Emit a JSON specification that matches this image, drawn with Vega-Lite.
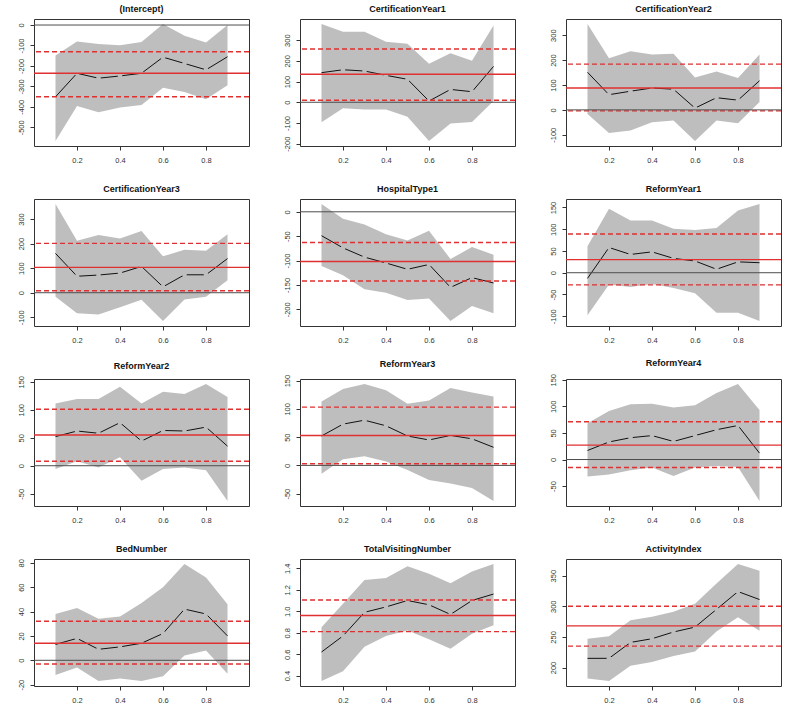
{
"$schema": "https://vega.github.io/schema/vega-lite/v6.json",
"padding": {"left": 16, "top": 4, "right": 5, "bottom": 5},
"background": "white",
"bounds": "flush",
"columns": 3,
"spacing": {"row": 53, "column": 51},
"config": {
  "font": "Liberation Sans",
  "view": {"stroke": "#333333", "strokeWidth": 1},
  "axis": {"grid": false, "domain": false, "tickSize": 4, "tickColor": "#333333", "labelColor": "#333333", "labelFontSize": 7.5, "labelFlush": false, "labelExpr": "replace(datum.label, '−', '-')"},
  "axisY": {"labelAngle": -90, "labelAlign": "center", "labelBaseline": "bottom", "labelPadding": 5},
  "axisX": {"labelPadding": 6},
  "title": {"fontSize": 9, "fontWeight": "bold", "offset": 5, "frame": "group", "color": "#111111"}
},
"datasets": {
"qr": [
{"v":"(Intercept)","tau":0.1,"coef":-351,"lo":-567,"hi":-149},
{"v":"(Intercept)","tau":0.2,"coef":-236,"lo":-396,"hi":-80},
{"v":"(Intercept)","tau":0.3,"coef":-260,"lo":-427,"hi":-93},
{"v":"(Intercept)","tau":0.4,"coef":-249,"lo":-403,"hi":-99},
{"v":"(Intercept)","tau":0.5,"coef":-236,"lo":-391,"hi":-83},
{"v":"(Intercept)","tau":0.6,"coef":-157,"lo":-307,"hi":5},
{"v":"(Intercept)","tau":0.7,"coef":-188,"lo":-327,"hi":-53},
{"v":"(Intercept)","tau":0.8,"coef":-219,"lo":-363,"hi":-86},
{"v":"(Intercept)","tau":0.9,"coef":-155,"lo":-294,"hi":0},
{"v":"CertificationYear1","tau":0.1,"coef":143,"lo":-97,"hi":378},
{"v":"CertificationYear1","tau":0.2,"coef":157,"lo":-29,"hi":340},
{"v":"CertificationYear1","tau":0.3,"coef":151,"lo":-35,"hi":340},
{"v":"CertificationYear1","tau":0.4,"coef":130,"lo":-35,"hi":292},
{"v":"CertificationYear1","tau":0.5,"coef":111,"lo":-70,"hi":283},
{"v":"CertificationYear1","tau":0.6,"coef":6,"lo":-187,"hi":186},
{"v":"CertificationYear1","tau":0.7,"coef":62,"lo":-102,"hi":237},
{"v":"CertificationYear1","tau":0.8,"coef":51,"lo":-95,"hi":200},
{"v":"CertificationYear1","tau":0.9,"coef":173,"lo":6,"hi":371},
{"v":"CertificationYear2","tau":0.1,"coef":151,"lo":-17,"hi":345},
{"v":"CertificationYear2","tau":0.2,"coef":61,"lo":-93,"hi":207},
{"v":"CertificationYear2","tau":0.3,"coef":75,"lo":-83,"hi":236},
{"v":"CertificationYear2","tau":0.4,"coef":88,"lo":-50,"hi":222},
{"v":"CertificationYear2","tau":0.5,"coef":83,"lo":-43,"hi":225},
{"v":"CertificationYear2","tau":0.6,"coef":7,"lo":-125,"hi":130},
{"v":"CertificationYear2","tau":0.7,"coef":49,"lo":-43,"hi":154},
{"v":"CertificationYear2","tau":0.8,"coef":39,"lo":-54,"hi":128},
{"v":"CertificationYear2","tau":0.9,"coef":117,"lo":32,"hi":222},
{"v":"CertificationYear3","tau":0.1,"coef":160,"lo":-16,"hi":361},
{"v":"CertificationYear3","tau":0.2,"coef":67,"lo":-83,"hi":211},
{"v":"CertificationYear3","tau":0.3,"coef":72,"lo":-89,"hi":235},
{"v":"CertificationYear3","tau":0.4,"coef":80,"lo":-59,"hi":221},
{"v":"CertificationYear3","tau":0.5,"coef":107,"lo":-29,"hi":251},
{"v":"CertificationYear3","tau":0.6,"coef":24,"lo":-115,"hi":148},
{"v":"CertificationYear3","tau":0.7,"coef":73,"lo":-28,"hi":175},
{"v":"CertificationYear3","tau":0.8,"coef":73,"lo":-16,"hi":171},
{"v":"CertificationYear3","tau":0.9,"coef":139,"lo":51,"hi":238},
{"v":"HospitalType1","tau":0.1,"coef":-49,"lo":-111,"hi":16},
{"v":"HospitalType1","tau":0.2,"coef":-74,"lo":-130,"hi":-14},
{"v":"HospitalType1","tau":0.3,"coef":-93,"lo":-159,"hi":-26},
{"v":"HospitalType1","tau":0.4,"coef":-105,"lo":-166,"hi":-46},
{"v":"HospitalType1","tau":0.5,"coef":-118,"lo":-181,"hi":-59},
{"v":"HospitalType1","tau":0.6,"coef":-108,"lo":-178,"hi":-39},
{"v":"HospitalType1","tau":0.7,"coef":-155,"lo":-224,"hi":-97},
{"v":"HospitalType1","tau":0.8,"coef":-135,"lo":-193,"hi":-72},
{"v":"HospitalType1","tau":0.9,"coef":-146,"lo":-208,"hi":-88},
{"v":"ReformYear1","tau":0.1,"coef":-13,"lo":-98,"hi":61},
{"v":"ReformYear1","tau":0.2,"coef":58,"lo":-27,"hi":147},
{"v":"ReformYear1","tau":0.3,"coef":42,"lo":-33,"hi":120},
{"v":"ReformYear1","tau":0.4,"coef":48,"lo":-26,"hi":120},
{"v":"ReformYear1","tau":0.5,"coef":33,"lo":-35,"hi":101},
{"v":"ReformYear1","tau":0.6,"coef":27,"lo":-47,"hi":98},
{"v":"ReformYear1","tau":0.7,"coef":8,"lo":-92,"hi":103},
{"v":"ReformYear1","tau":0.8,"coef":25,"lo":-92,"hi":143},
{"v":"ReformYear1","tau":0.9,"coef":23,"lo":-111,"hi":158},
{"v":"ReformYear2","tau":0.1,"coef":52,"lo":-6,"hi":111},
{"v":"ReformYear2","tau":0.2,"coef":62,"lo":8,"hi":119},
{"v":"ReformYear2","tau":0.3,"coef":58,"lo":-3,"hi":119},
{"v":"ReformYear2","tau":0.4,"coef":77,"lo":15,"hi":141},
{"v":"ReformYear2","tau":0.5,"coef":44,"lo":-27,"hi":111},
{"v":"ReformYear2","tau":0.6,"coef":63,"lo":-6,"hi":132},
{"v":"ReformYear2","tau":0.7,"coef":62,"lo":-3,"hi":128},
{"v":"ReformYear2","tau":0.8,"coef":69,"lo":-8,"hi":146},
{"v":"ReformYear2","tau":0.9,"coef":35,"lo":-63,"hi":123},
{"v":"ReformYear3","tau":0.1,"coef":52,"lo":-15,"hi":113},
{"v":"ReformYear3","tau":0.2,"coef":73,"lo":11,"hi":135},
{"v":"ReformYear3","tau":0.3,"coef":80,"lo":16,"hi":144},
{"v":"ReformYear3","tau":0.4,"coef":70,"lo":7,"hi":133},
{"v":"ReformYear3","tau":0.5,"coef":52,"lo":-8,"hi":109},
{"v":"ReformYear3","tau":0.6,"coef":45,"lo":-26,"hi":115},
{"v":"ReformYear3","tau":0.7,"coef":53,"lo":-32,"hi":137},
{"v":"ReformYear3","tau":0.8,"coef":47,"lo":-40,"hi":129},
{"v":"ReformYear3","tau":0.9,"coef":32,"lo":-63,"hi":122},
{"v":"ReformYear4","tau":0.1,"coef":17,"lo":-32,"hi":68},
{"v":"ReformYear4","tau":0.2,"coef":33,"lo":-28,"hi":91},
{"v":"ReformYear4","tau":0.3,"coef":41,"lo":-20,"hi":104},
{"v":"ReformYear4","tau":0.4,"coef":45,"lo":-15,"hi":105},
{"v":"ReformYear4","tau":0.5,"coef":34,"lo":-31,"hi":98},
{"v":"ReformYear4","tau":0.6,"coef":45,"lo":-15,"hi":102},
{"v":"ReformYear4","tau":0.7,"coef":56,"lo":-12,"hi":125},
{"v":"ReformYear4","tau":0.8,"coef":64,"lo":-14,"hi":142},
{"v":"ReformYear4","tau":0.9,"coef":12,"lo":-78,"hi":93},
{"v":"BedNumber","tau":0.1,"coef":13,"lo":-12,"hi":38},
{"v":"BedNumber","tau":0.2,"coef":18,"lo":-6,"hi":43},
{"v":"BedNumber","tau":0.3,"coef":9,"lo":-17,"hi":34},
{"v":"BedNumber","tau":0.4,"coef":11,"lo":-15,"hi":36},
{"v":"BedNumber","tau":0.5,"coef":14,"lo":-17,"hi":47},
{"v":"BedNumber","tau":0.6,"coef":22,"lo":-13,"hi":60},
{"v":"BedNumber","tau":0.7,"coef":42,"lo":4,"hi":79},
{"v":"BedNumber","tau":0.8,"coef":38,"lo":8,"hi":68},
{"v":"BedNumber","tau":0.9,"coef":20,"lo":-11,"hi":46},
{"v":"TotalVisitingNumber","tau":0.1,"coef":0.62,"lo":0.35,"hi":0.85},
{"v":"TotalVisitingNumber","tau":0.2,"coef":0.77,"lo":0.44,"hi":1.07},
{"v":"TotalVisitingNumber","tau":0.3,"coef":0.99,"lo":0.67,"hi":1.29},
{"v":"TotalVisitingNumber","tau":0.4,"coef":1.04,"lo":0.77,"hi":1.31},
{"v":"TotalVisitingNumber","tau":0.5,"coef":1.10,"lo":0.82,"hi":1.42},
{"v":"TotalVisitingNumber","tau":0.6,"coef":1.06,"lo":0.74,"hi":1.35},
{"v":"TotalVisitingNumber","tau":0.7,"coef":0.97,"lo":0.65,"hi":1.26},
{"v":"TotalVisitingNumber","tau":0.8,"coef":1.10,"lo":0.79,"hi":1.37},
{"v":"TotalVisitingNumber","tau":0.9,"coef":1.16,"lo":0.87,"hi":1.44},
{"v":"ActivityIndex","tau":0.1,"coef":215,"lo":182,"hi":247},
{"v":"ActivityIndex","tau":0.2,"coef":215,"lo":178,"hi":251},
{"v":"ActivityIndex","tau":0.3,"coef":241,"lo":203,"hi":277},
{"v":"ActivityIndex","tau":0.4,"coef":247,"lo":209,"hi":283},
{"v":"ActivityIndex","tau":0.5,"coef":258,"lo":219,"hi":291},
{"v":"ActivityIndex","tau":0.6,"coef":266,"lo":226,"hi":304},
{"v":"ActivityIndex","tau":0.7,"coef":295,"lo":259,"hi":337},
{"v":"ActivityIndex","tau":0.8,"coef":324,"lo":282,"hi":369},
{"v":"ActivityIndex","tau":0.9,"coef":311,"lo":260,"hi":358}
],
"ols": [
{"v":"(Intercept)","est":-236,"lo":-351,"hi":-131},
{"v":"CertificationYear1","est":135,"lo":10,"hi":257},
{"v":"CertificationYear2","est":88,"lo":-4,"hi":184},
{"v":"CertificationYear3","est":103,"lo":8,"hi":201},
{"v":"HospitalType1","est":-102,"lo":-142,"hi":-63},
{"v":"ReformYear1","est":30,"lo":-28,"hi":89},
{"v":"ReformYear2","est":55,"lo":8,"hi":101},
{"v":"ReformYear3","est":53,"lo":3,"hi":103},
{"v":"ReformYear4","est":27,"lo":-15,"hi":71},
{"v":"BedNumber","est":14,"lo":-3,"hi":32},
{"v":"TotalVisitingNumber","est":0.96,"lo":0.81,"hi":1.105},
{"v":"ActivityIndex","est":268,"lo":235,"hi":300}
]
},
"concat": [
{"width":215,"height":127,"title":"(Intercept)","layer":[
 {"data":{"name":"qr"},"transform":[{"filter":"datum.v === '(Intercept)'"}],"mark":{"type":"area","color":"#bebebe","opacity":1},"encoding":{"x":{"field":"tau","type":"quantitative","title":null,"scale":{"domain":[0.068,0.932]},"axis":{"values":[0.2,0.4,0.6,0.8],"format":".1f","labelOverlap":false,"tickCount":10}},"y":{"field":"lo","type":"quantitative","title":null,"scale":{"zero":false,"nice":false,"padding":5},"axis":{"values":[-500,-400,-300,-200,-100,0],"format":"d","labelOverlap":false,"tickCount":10}},"y2":{"field":"hi"}}},
 {"data":{"name":"qr"},"transform":[{"filter":"datum.v === '(Intercept)'"}],"mark":{"type":"line","color":"#111111","strokeWidth":1},"encoding":{"x":{"field":"tau","type":"quantitative","title":null},"y":{"field":"coef","type":"quantitative","title":null}}},
 {"data":{"name":"qr"},"transform":[{"filter":"datum.v === '(Intercept)' && datum.tau > 0.15 && datum.tau < 0.85"}],"mark":{"type":"point","filled":true,"color":"#bebebe","fillOpacity":1,"opacity":1,"size":22,"strokeWidth":0},"encoding":{"x":{"field":"tau","type":"quantitative","title":null},"y":{"field":"coef","type":"quantitative","title":null}}},
 {"data":{"name":"ols"},"transform":[{"filter":"datum.v === '(Intercept)'"}],"mark":{"type":"rule","color":"#e03030","strokeWidth":1.4},"encoding":{"y":{"field":"est","type":"quantitative","title":null}}},
 {"data":{"name":"ols"},"transform":[{"filter":"datum.v === '(Intercept)'"}],"mark":{"type":"rule","color":"#e03030","strokeWidth":1.4,"strokeDash":[5,3]},"encoding":{"y":{"field":"lo","type":"quantitative","title":null}}},
 {"data":{"name":"ols"},"transform":[{"filter":"datum.v === '(Intercept)'"}],"mark":{"type":"rule","color":"#e03030","strokeWidth":1.4,"strokeDash":[5,3]},"encoding":{"y":{"field":"hi","type":"quantitative","title":null}}},
 {"data":{"name":"ols"},"transform":[{"filter":"datum.v === '(Intercept)'"}],"mark":{"type":"rule","color":"#4d4d4d","strokeWidth":1},"encoding":{"y":{"datum":0,"type":"quantitative"}}}
]},
{"width":215,"height":127,"title":"CertificationYear1","layer":[
 {"data":{"name":"qr"},"transform":[{"filter":"datum.v === 'CertificationYear1'"}],"mark":{"type":"area","color":"#bebebe","opacity":1},"encoding":{"x":{"field":"tau","type":"quantitative","title":null,"scale":{"domain":[0.068,0.932]},"axis":{"values":[0.2,0.4,0.6,0.8],"format":".1f","labelOverlap":false,"tickCount":10}},"y":{"field":"lo","type":"quantitative","title":null,"scale":{"zero":false,"nice":false,"padding":5},"axis":{"values":[-200,-100,0,100,200,300],"format":"d","labelOverlap":false,"tickCount":10}},"y2":{"field":"hi"}}},
 {"data":{"name":"qr"},"transform":[{"filter":"datum.v === 'CertificationYear1'"}],"mark":{"type":"line","color":"#111111","strokeWidth":1},"encoding":{"x":{"field":"tau","type":"quantitative","title":null},"y":{"field":"coef","type":"quantitative","title":null}}},
 {"data":{"name":"qr"},"transform":[{"filter":"datum.v === 'CertificationYear1' && datum.tau > 0.15 && datum.tau < 0.85"}],"mark":{"type":"point","filled":true,"color":"#bebebe","fillOpacity":1,"opacity":1,"size":22,"strokeWidth":0},"encoding":{"x":{"field":"tau","type":"quantitative","title":null},"y":{"field":"coef","type":"quantitative","title":null}}},
 {"data":{"name":"ols"},"transform":[{"filter":"datum.v === 'CertificationYear1'"}],"mark":{"type":"rule","color":"#e03030","strokeWidth":1.4},"encoding":{"y":{"field":"est","type":"quantitative","title":null}}},
 {"data":{"name":"ols"},"transform":[{"filter":"datum.v === 'CertificationYear1'"}],"mark":{"type":"rule","color":"#e03030","strokeWidth":1.4,"strokeDash":[5,3]},"encoding":{"y":{"field":"lo","type":"quantitative","title":null}}},
 {"data":{"name":"ols"},"transform":[{"filter":"datum.v === 'CertificationYear1'"}],"mark":{"type":"rule","color":"#e03030","strokeWidth":1.4,"strokeDash":[5,3]},"encoding":{"y":{"field":"hi","type":"quantitative","title":null}}},
 {"data":{"name":"ols"},"transform":[{"filter":"datum.v === 'CertificationYear1'"}],"mark":{"type":"rule","color":"#4d4d4d","strokeWidth":1},"encoding":{"y":{"datum":0,"type":"quantitative"}}}
]},
{"width":215,"height":127,"title":"CertificationYear2","layer":[
 {"data":{"name":"qr"},"transform":[{"filter":"datum.v === 'CertificationYear2'"}],"mark":{"type":"area","color":"#bebebe","opacity":1},"encoding":{"x":{"field":"tau","type":"quantitative","title":null,"scale":{"domain":[0.068,0.932]},"axis":{"values":[0.2,0.4,0.6,0.8],"format":".1f","labelOverlap":false,"tickCount":10}},"y":{"field":"lo","type":"quantitative","title":null,"scale":{"zero":false,"nice":false,"padding":5},"axis":{"values":[-100,0,100,200,300],"format":"d","labelOverlap":false,"tickCount":10}},"y2":{"field":"hi"}}},
 {"data":{"name":"qr"},"transform":[{"filter":"datum.v === 'CertificationYear2'"}],"mark":{"type":"line","color":"#111111","strokeWidth":1},"encoding":{"x":{"field":"tau","type":"quantitative","title":null},"y":{"field":"coef","type":"quantitative","title":null}}},
 {"data":{"name":"qr"},"transform":[{"filter":"datum.v === 'CertificationYear2' && datum.tau > 0.15 && datum.tau < 0.85"}],"mark":{"type":"point","filled":true,"color":"#bebebe","fillOpacity":1,"opacity":1,"size":22,"strokeWidth":0},"encoding":{"x":{"field":"tau","type":"quantitative","title":null},"y":{"field":"coef","type":"quantitative","title":null}}},
 {"data":{"name":"ols"},"transform":[{"filter":"datum.v === 'CertificationYear2'"}],"mark":{"type":"rule","color":"#e03030","strokeWidth":1.4},"encoding":{"y":{"field":"est","type":"quantitative","title":null}}},
 {"data":{"name":"ols"},"transform":[{"filter":"datum.v === 'CertificationYear2'"}],"mark":{"type":"rule","color":"#e03030","strokeWidth":1.4,"strokeDash":[5,3]},"encoding":{"y":{"field":"lo","type":"quantitative","title":null}}},
 {"data":{"name":"ols"},"transform":[{"filter":"datum.v === 'CertificationYear2'"}],"mark":{"type":"rule","color":"#e03030","strokeWidth":1.4,"strokeDash":[5,3]},"encoding":{"y":{"field":"hi","type":"quantitative","title":null}}},
 {"data":{"name":"ols"},"transform":[{"filter":"datum.v === 'CertificationYear2'"}],"mark":{"type":"rule","color":"#4d4d4d","strokeWidth":1},"encoding":{"y":{"datum":0,"type":"quantitative"}}}
]},
{"width":215,"height":127,"title":"CertificationYear3","layer":[
 {"data":{"name":"qr"},"transform":[{"filter":"datum.v === 'CertificationYear3'"}],"mark":{"type":"area","color":"#bebebe","opacity":1},"encoding":{"x":{"field":"tau","type":"quantitative","title":null,"scale":{"domain":[0.068,0.932]},"axis":{"values":[0.2,0.4,0.6,0.8],"format":".1f","labelOverlap":false,"tickCount":10}},"y":{"field":"lo","type":"quantitative","title":null,"scale":{"zero":false,"nice":false,"padding":5},"axis":{"values":[-100,0,100,200,300],"format":"d","labelOverlap":false,"tickCount":10}},"y2":{"field":"hi"}}},
 {"data":{"name":"qr"},"transform":[{"filter":"datum.v === 'CertificationYear3'"}],"mark":{"type":"line","color":"#111111","strokeWidth":1},"encoding":{"x":{"field":"tau","type":"quantitative","title":null},"y":{"field":"coef","type":"quantitative","title":null}}},
 {"data":{"name":"qr"},"transform":[{"filter":"datum.v === 'CertificationYear3' && datum.tau > 0.15 && datum.tau < 0.85"}],"mark":{"type":"point","filled":true,"color":"#bebebe","fillOpacity":1,"opacity":1,"size":22,"strokeWidth":0},"encoding":{"x":{"field":"tau","type":"quantitative","title":null},"y":{"field":"coef","type":"quantitative","title":null}}},
 {"data":{"name":"ols"},"transform":[{"filter":"datum.v === 'CertificationYear3'"}],"mark":{"type":"rule","color":"#e03030","strokeWidth":1.4},"encoding":{"y":{"field":"est","type":"quantitative","title":null}}},
 {"data":{"name":"ols"},"transform":[{"filter":"datum.v === 'CertificationYear3'"}],"mark":{"type":"rule","color":"#e03030","strokeWidth":1.4,"strokeDash":[5,3]},"encoding":{"y":{"field":"lo","type":"quantitative","title":null}}},
 {"data":{"name":"ols"},"transform":[{"filter":"datum.v === 'CertificationYear3'"}],"mark":{"type":"rule","color":"#e03030","strokeWidth":1.4,"strokeDash":[5,3]},"encoding":{"y":{"field":"hi","type":"quantitative","title":null}}},
 {"data":{"name":"ols"},"transform":[{"filter":"datum.v === 'CertificationYear3'"}],"mark":{"type":"rule","color":"#4d4d4d","strokeWidth":1},"encoding":{"y":{"datum":0,"type":"quantitative"}}}
]},
{"width":215,"height":127,"title":"HospitalType1","layer":[
 {"data":{"name":"qr"},"transform":[{"filter":"datum.v === 'HospitalType1'"}],"mark":{"type":"area","color":"#bebebe","opacity":1},"encoding":{"x":{"field":"tau","type":"quantitative","title":null,"scale":{"domain":[0.068,0.932]},"axis":{"values":[0.2,0.4,0.6,0.8],"format":".1f","labelOverlap":false,"tickCount":10}},"y":{"field":"lo","type":"quantitative","title":null,"scale":{"zero":false,"nice":false,"padding":5},"axis":{"values":[-200,-150,-100,-50,0],"format":"d","labelOverlap":false,"tickCount":10}},"y2":{"field":"hi"}}},
 {"data":{"name":"qr"},"transform":[{"filter":"datum.v === 'HospitalType1'"}],"mark":{"type":"line","color":"#111111","strokeWidth":1},"encoding":{"x":{"field":"tau","type":"quantitative","title":null},"y":{"field":"coef","type":"quantitative","title":null}}},
 {"data":{"name":"qr"},"transform":[{"filter":"datum.v === 'HospitalType1' && datum.tau > 0.15 && datum.tau < 0.85"}],"mark":{"type":"point","filled":true,"color":"#bebebe","fillOpacity":1,"opacity":1,"size":22,"strokeWidth":0},"encoding":{"x":{"field":"tau","type":"quantitative","title":null},"y":{"field":"coef","type":"quantitative","title":null}}},
 {"data":{"name":"ols"},"transform":[{"filter":"datum.v === 'HospitalType1'"}],"mark":{"type":"rule","color":"#e03030","strokeWidth":1.4},"encoding":{"y":{"field":"est","type":"quantitative","title":null}}},
 {"data":{"name":"ols"},"transform":[{"filter":"datum.v === 'HospitalType1'"}],"mark":{"type":"rule","color":"#e03030","strokeWidth":1.4,"strokeDash":[5,3]},"encoding":{"y":{"field":"lo","type":"quantitative","title":null}}},
 {"data":{"name":"ols"},"transform":[{"filter":"datum.v === 'HospitalType1'"}],"mark":{"type":"rule","color":"#e03030","strokeWidth":1.4,"strokeDash":[5,3]},"encoding":{"y":{"field":"hi","type":"quantitative","title":null}}},
 {"data":{"name":"ols"},"transform":[{"filter":"datum.v === 'HospitalType1'"}],"mark":{"type":"rule","color":"#4d4d4d","strokeWidth":1},"encoding":{"y":{"datum":0,"type":"quantitative"}}}
]},
{"width":215,"height":127,"title":"ReformYear1","layer":[
 {"data":{"name":"qr"},"transform":[{"filter":"datum.v === 'ReformYear1'"}],"mark":{"type":"area","color":"#bebebe","opacity":1},"encoding":{"x":{"field":"tau","type":"quantitative","title":null,"scale":{"domain":[0.068,0.932]},"axis":{"values":[0.2,0.4,0.6,0.8],"format":".1f","labelOverlap":false,"tickCount":10}},"y":{"field":"lo","type":"quantitative","title":null,"scale":{"zero":false,"nice":false,"padding":5},"axis":{"values":[-100,-50,0,50,100,150],"format":"d","labelOverlap":false,"tickCount":10}},"y2":{"field":"hi"}}},
 {"data":{"name":"qr"},"transform":[{"filter":"datum.v === 'ReformYear1'"}],"mark":{"type":"line","color":"#111111","strokeWidth":1},"encoding":{"x":{"field":"tau","type":"quantitative","title":null},"y":{"field":"coef","type":"quantitative","title":null}}},
 {"data":{"name":"qr"},"transform":[{"filter":"datum.v === 'ReformYear1' && datum.tau > 0.15 && datum.tau < 0.85"}],"mark":{"type":"point","filled":true,"color":"#bebebe","fillOpacity":1,"opacity":1,"size":22,"strokeWidth":0},"encoding":{"x":{"field":"tau","type":"quantitative","title":null},"y":{"field":"coef","type":"quantitative","title":null}}},
 {"data":{"name":"ols"},"transform":[{"filter":"datum.v === 'ReformYear1'"}],"mark":{"type":"rule","color":"#e03030","strokeWidth":1.4},"encoding":{"y":{"field":"est","type":"quantitative","title":null}}},
 {"data":{"name":"ols"},"transform":[{"filter":"datum.v === 'ReformYear1'"}],"mark":{"type":"rule","color":"#e03030","strokeWidth":1.4,"strokeDash":[5,3]},"encoding":{"y":{"field":"lo","type":"quantitative","title":null}}},
 {"data":{"name":"ols"},"transform":[{"filter":"datum.v === 'ReformYear1'"}],"mark":{"type":"rule","color":"#e03030","strokeWidth":1.4,"strokeDash":[5,3]},"encoding":{"y":{"field":"hi","type":"quantitative","title":null}}},
 {"data":{"name":"ols"},"transform":[{"filter":"datum.v === 'ReformYear1'"}],"mark":{"type":"rule","color":"#4d4d4d","strokeWidth":1},"encoding":{"y":{"datum":0,"type":"quantitative"}}}
]},
{"width":215,"height":127,"title":"ReformYear2","layer":[
 {"data":{"name":"qr"},"transform":[{"filter":"datum.v === 'ReformYear2'"}],"mark":{"type":"area","color":"#bebebe","opacity":1},"encoding":{"x":{"field":"tau","type":"quantitative","title":null,"scale":{"domain":[0.068,0.932]},"axis":{"values":[0.2,0.4,0.6,0.8],"format":".1f","labelOverlap":false,"tickCount":10}},"y":{"field":"lo","type":"quantitative","title":null,"scale":{"zero":false,"nice":false,"padding":5},"axis":{"values":[-50,0,50,100,150],"format":"d","labelOverlap":false,"tickCount":10}},"y2":{"field":"hi"}}},
 {"data":{"name":"qr"},"transform":[{"filter":"datum.v === 'ReformYear2'"}],"mark":{"type":"line","color":"#111111","strokeWidth":1},"encoding":{"x":{"field":"tau","type":"quantitative","title":null},"y":{"field":"coef","type":"quantitative","title":null}}},
 {"data":{"name":"qr"},"transform":[{"filter":"datum.v === 'ReformYear2' && datum.tau > 0.15 && datum.tau < 0.85"}],"mark":{"type":"point","filled":true,"color":"#bebebe","fillOpacity":1,"opacity":1,"size":22,"strokeWidth":0},"encoding":{"x":{"field":"tau","type":"quantitative","title":null},"y":{"field":"coef","type":"quantitative","title":null}}},
 {"data":{"name":"ols"},"transform":[{"filter":"datum.v === 'ReformYear2'"}],"mark":{"type":"rule","color":"#e03030","strokeWidth":1.4},"encoding":{"y":{"field":"est","type":"quantitative","title":null}}},
 {"data":{"name":"ols"},"transform":[{"filter":"datum.v === 'ReformYear2'"}],"mark":{"type":"rule","color":"#e03030","strokeWidth":1.4,"strokeDash":[5,3]},"encoding":{"y":{"field":"lo","type":"quantitative","title":null}}},
 {"data":{"name":"ols"},"transform":[{"filter":"datum.v === 'ReformYear2'"}],"mark":{"type":"rule","color":"#e03030","strokeWidth":1.4,"strokeDash":[5,3]},"encoding":{"y":{"field":"hi","type":"quantitative","title":null}}},
 {"data":{"name":"ols"},"transform":[{"filter":"datum.v === 'ReformYear2'"}],"mark":{"type":"rule","color":"#4d4d4d","strokeWidth":1},"encoding":{"y":{"datum":0,"type":"quantitative"}}}
]},
{"width":215,"height":127,"title":"ReformYear3","layer":[
 {"data":{"name":"qr"},"transform":[{"filter":"datum.v === 'ReformYear3'"}],"mark":{"type":"area","color":"#bebebe","opacity":1},"encoding":{"x":{"field":"tau","type":"quantitative","title":null,"scale":{"domain":[0.068,0.932]},"axis":{"values":[0.2,0.4,0.6,0.8],"format":".1f","labelOverlap":false,"tickCount":10}},"y":{"field":"lo","type":"quantitative","title":null,"scale":{"zero":false,"nice":false,"padding":5},"axis":{"values":[-50,0,50,100,150],"format":"d","labelOverlap":false,"tickCount":10}},"y2":{"field":"hi"}}},
 {"data":{"name":"qr"},"transform":[{"filter":"datum.v === 'ReformYear3'"}],"mark":{"type":"line","color":"#111111","strokeWidth":1},"encoding":{"x":{"field":"tau","type":"quantitative","title":null},"y":{"field":"coef","type":"quantitative","title":null}}},
 {"data":{"name":"qr"},"transform":[{"filter":"datum.v === 'ReformYear3' && datum.tau > 0.15 && datum.tau < 0.85"}],"mark":{"type":"point","filled":true,"color":"#bebebe","fillOpacity":1,"opacity":1,"size":22,"strokeWidth":0},"encoding":{"x":{"field":"tau","type":"quantitative","title":null},"y":{"field":"coef","type":"quantitative","title":null}}},
 {"data":{"name":"ols"},"transform":[{"filter":"datum.v === 'ReformYear3'"}],"mark":{"type":"rule","color":"#e03030","strokeWidth":1.4},"encoding":{"y":{"field":"est","type":"quantitative","title":null}}},
 {"data":{"name":"ols"},"transform":[{"filter":"datum.v === 'ReformYear3'"}],"mark":{"type":"rule","color":"#e03030","strokeWidth":1.4,"strokeDash":[5,3]},"encoding":{"y":{"field":"lo","type":"quantitative","title":null}}},
 {"data":{"name":"ols"},"transform":[{"filter":"datum.v === 'ReformYear3'"}],"mark":{"type":"rule","color":"#e03030","strokeWidth":1.4,"strokeDash":[5,3]},"encoding":{"y":{"field":"hi","type":"quantitative","title":null}}},
 {"data":{"name":"ols"},"transform":[{"filter":"datum.v === 'ReformYear3'"}],"mark":{"type":"rule","color":"#4d4d4d","strokeWidth":1},"encoding":{"y":{"datum":0,"type":"quantitative"}}}
]},
{"width":215,"height":127,"title":"ReformYear4","layer":[
 {"data":{"name":"qr"},"transform":[{"filter":"datum.v === 'ReformYear4'"}],"mark":{"type":"area","color":"#bebebe","opacity":1},"encoding":{"x":{"field":"tau","type":"quantitative","title":null,"scale":{"domain":[0.068,0.932]},"axis":{"values":[0.2,0.4,0.6,0.8],"format":".1f","labelOverlap":false,"tickCount":10}},"y":{"field":"lo","type":"quantitative","title":null,"scale":{"zero":false,"nice":false,"padding":5},"axis":{"values":[-50,0,50,100,150],"format":"d","labelOverlap":false,"tickCount":10}},"y2":{"field":"hi"}}},
 {"data":{"name":"qr"},"transform":[{"filter":"datum.v === 'ReformYear4'"}],"mark":{"type":"line","color":"#111111","strokeWidth":1},"encoding":{"x":{"field":"tau","type":"quantitative","title":null},"y":{"field":"coef","type":"quantitative","title":null}}},
 {"data":{"name":"qr"},"transform":[{"filter":"datum.v === 'ReformYear4' && datum.tau > 0.15 && datum.tau < 0.85"}],"mark":{"type":"point","filled":true,"color":"#bebebe","fillOpacity":1,"opacity":1,"size":22,"strokeWidth":0},"encoding":{"x":{"field":"tau","type":"quantitative","title":null},"y":{"field":"coef","type":"quantitative","title":null}}},
 {"data":{"name":"ols"},"transform":[{"filter":"datum.v === 'ReformYear4'"}],"mark":{"type":"rule","color":"#e03030","strokeWidth":1.4},"encoding":{"y":{"field":"est","type":"quantitative","title":null}}},
 {"data":{"name":"ols"},"transform":[{"filter":"datum.v === 'ReformYear4'"}],"mark":{"type":"rule","color":"#e03030","strokeWidth":1.4,"strokeDash":[5,3]},"encoding":{"y":{"field":"lo","type":"quantitative","title":null}}},
 {"data":{"name":"ols"},"transform":[{"filter":"datum.v === 'ReformYear4'"}],"mark":{"type":"rule","color":"#e03030","strokeWidth":1.4,"strokeDash":[5,3]},"encoding":{"y":{"field":"hi","type":"quantitative","title":null}}},
 {"data":{"name":"ols"},"transform":[{"filter":"datum.v === 'ReformYear4'"}],"mark":{"type":"rule","color":"#4d4d4d","strokeWidth":1},"encoding":{"y":{"datum":0,"type":"quantitative"}}}
]},
{"width":215,"height":127,"title":"BedNumber","layer":[
 {"data":{"name":"qr"},"transform":[{"filter":"datum.v === 'BedNumber'"}],"mark":{"type":"area","color":"#bebebe","opacity":1},"encoding":{"x":{"field":"tau","type":"quantitative","title":null,"scale":{"domain":[0.068,0.932]},"axis":{"values":[0.2,0.4,0.6,0.8],"format":".1f","labelOverlap":false,"tickCount":10}},"y":{"field":"lo","type":"quantitative","title":null,"scale":{"zero":false,"nice":false,"padding":5},"axis":{"values":[-20,0,20,40,60,80],"format":"d","labelOverlap":false,"tickCount":10}},"y2":{"field":"hi"}}},
 {"data":{"name":"qr"},"transform":[{"filter":"datum.v === 'BedNumber'"}],"mark":{"type":"line","color":"#111111","strokeWidth":1},"encoding":{"x":{"field":"tau","type":"quantitative","title":null},"y":{"field":"coef","type":"quantitative","title":null}}},
 {"data":{"name":"qr"},"transform":[{"filter":"datum.v === 'BedNumber' && datum.tau > 0.15 && datum.tau < 0.85"}],"mark":{"type":"point","filled":true,"color":"#bebebe","fillOpacity":1,"opacity":1,"size":22,"strokeWidth":0},"encoding":{"x":{"field":"tau","type":"quantitative","title":null},"y":{"field":"coef","type":"quantitative","title":null}}},
 {"data":{"name":"ols"},"transform":[{"filter":"datum.v === 'BedNumber'"}],"mark":{"type":"rule","color":"#e03030","strokeWidth":1.4},"encoding":{"y":{"field":"est","type":"quantitative","title":null}}},
 {"data":{"name":"ols"},"transform":[{"filter":"datum.v === 'BedNumber'"}],"mark":{"type":"rule","color":"#e03030","strokeWidth":1.4,"strokeDash":[5,3]},"encoding":{"y":{"field":"lo","type":"quantitative","title":null}}},
 {"data":{"name":"ols"},"transform":[{"filter":"datum.v === 'BedNumber'"}],"mark":{"type":"rule","color":"#e03030","strokeWidth":1.4,"strokeDash":[5,3]},"encoding":{"y":{"field":"hi","type":"quantitative","title":null}}},
 {"data":{"name":"ols"},"transform":[{"filter":"datum.v === 'BedNumber'"}],"mark":{"type":"rule","color":"#4d4d4d","strokeWidth":1},"encoding":{"y":{"datum":0,"type":"quantitative"}}}
]},
{"width":215,"height":127,"title":"TotalVisitingNumber","layer":[
 {"data":{"name":"qr"},"transform":[{"filter":"datum.v === 'TotalVisitingNumber'"}],"mark":{"type":"area","color":"#bebebe","opacity":1},"encoding":{"x":{"field":"tau","type":"quantitative","title":null,"scale":{"domain":[0.068,0.932]},"axis":{"values":[0.2,0.4,0.6,0.8],"format":".1f","labelOverlap":false,"tickCount":10}},"y":{"field":"lo","type":"quantitative","title":null,"scale":{"zero":false,"nice":false,"padding":5},"axis":{"values":[0.4,0.6,0.8,1.0,1.2,1.4],"format":".1f","labelOverlap":false,"tickCount":10}},"y2":{"field":"hi"}}},
 {"data":{"name":"qr"},"transform":[{"filter":"datum.v === 'TotalVisitingNumber'"}],"mark":{"type":"line","color":"#111111","strokeWidth":1},"encoding":{"x":{"field":"tau","type":"quantitative","title":null},"y":{"field":"coef","type":"quantitative","title":null}}},
 {"data":{"name":"qr"},"transform":[{"filter":"datum.v === 'TotalVisitingNumber' && datum.tau > 0.15 && datum.tau < 0.85"}],"mark":{"type":"point","filled":true,"color":"#bebebe","fillOpacity":1,"opacity":1,"size":22,"strokeWidth":0},"encoding":{"x":{"field":"tau","type":"quantitative","title":null},"y":{"field":"coef","type":"quantitative","title":null}}},
 {"data":{"name":"ols"},"transform":[{"filter":"datum.v === 'TotalVisitingNumber'"}],"mark":{"type":"rule","color":"#e03030","strokeWidth":1.4},"encoding":{"y":{"field":"est","type":"quantitative","title":null}}},
 {"data":{"name":"ols"},"transform":[{"filter":"datum.v === 'TotalVisitingNumber'"}],"mark":{"type":"rule","color":"#e03030","strokeWidth":1.4,"strokeDash":[5,3]},"encoding":{"y":{"field":"lo","type":"quantitative","title":null}}},
 {"data":{"name":"ols"},"transform":[{"filter":"datum.v === 'TotalVisitingNumber'"}],"mark":{"type":"rule","color":"#e03030","strokeWidth":1.4,"strokeDash":[5,3]},"encoding":{"y":{"field":"hi","type":"quantitative","title":null}}}
]},
{"width":215,"height":127,"title":"ActivityIndex","layer":[
 {"data":{"name":"qr"},"transform":[{"filter":"datum.v === 'ActivityIndex'"}],"mark":{"type":"area","color":"#bebebe","opacity":1},"encoding":{"x":{"field":"tau","type":"quantitative","title":null,"scale":{"domain":[0.068,0.932]},"axis":{"values":[0.2,0.4,0.6,0.8],"format":".1f","labelOverlap":false,"tickCount":10}},"y":{"field":"lo","type":"quantitative","title":null,"scale":{"zero":false,"nice":false,"padding":5},"axis":{"values":[200,250,300,350],"format":"d","labelOverlap":false,"tickCount":10}},"y2":{"field":"hi"}}},
 {"data":{"name":"qr"},"transform":[{"filter":"datum.v === 'ActivityIndex'"}],"mark":{"type":"line","color":"#111111","strokeWidth":1},"encoding":{"x":{"field":"tau","type":"quantitative","title":null},"y":{"field":"coef","type":"quantitative","title":null}}},
 {"data":{"name":"qr"},"transform":[{"filter":"datum.v === 'ActivityIndex' && datum.tau > 0.15 && datum.tau < 0.85"}],"mark":{"type":"point","filled":true,"color":"#bebebe","fillOpacity":1,"opacity":1,"size":22,"strokeWidth":0},"encoding":{"x":{"field":"tau","type":"quantitative","title":null},"y":{"field":"coef","type":"quantitative","title":null}}},
 {"data":{"name":"ols"},"transform":[{"filter":"datum.v === 'ActivityIndex'"}],"mark":{"type":"rule","color":"#e03030","strokeWidth":1.4},"encoding":{"y":{"field":"est","type":"quantitative","title":null}}},
 {"data":{"name":"ols"},"transform":[{"filter":"datum.v === 'ActivityIndex'"}],"mark":{"type":"rule","color":"#e03030","strokeWidth":1.4,"strokeDash":[5,3]},"encoding":{"y":{"field":"lo","type":"quantitative","title":null}}},
 {"data":{"name":"ols"},"transform":[{"filter":"datum.v === 'ActivityIndex'"}],"mark":{"type":"rule","color":"#e03030","strokeWidth":1.4,"strokeDash":[5,3]},"encoding":{"y":{"field":"hi","type":"quantitative","title":null}}}
]}
]
}
